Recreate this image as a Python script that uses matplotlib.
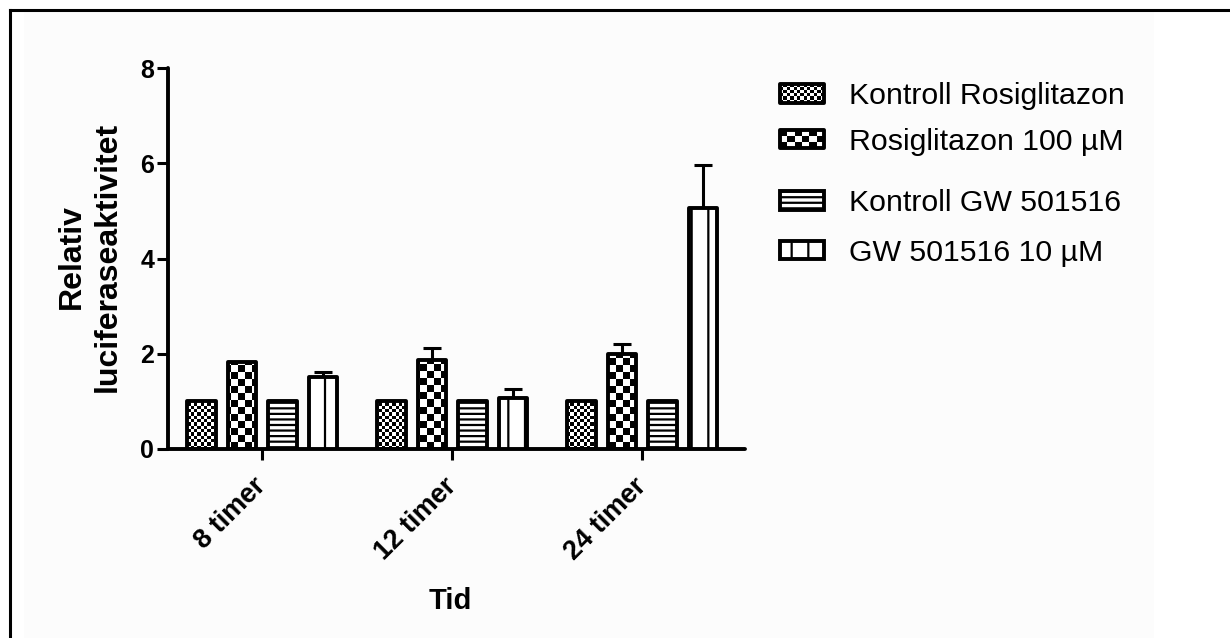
import matplotlib
matplotlib.use("Agg")
import matplotlib.pyplot as plt
from matplotlib.colors import ListedColormap
from matplotlib.legend_handler import HandlerBase
from matplotlib.lines import Line2D
from matplotlib.patches import Rectangle
import numpy as np

plt.rcParams['font.family'] = ['Liberation Sans', 'DejaVu Sans']
plt.rcParams['hatch.linewidth'] = 1.6
plt.rcParams['hatch.color'] = 'black'

# data
groups = ['8 timer', '12 timer', '24 timer']
labels = ['Kontroll Rosiglitazon', 'Rosiglitazon 100 µM',
          'Kontroll GW 501516', 'GW 501516 10 µM']
kontroll_rosi = [1.0, 1.0, 1.0]
rosi_100 = [1.82, 1.87, 1.99]
rosi_100_err = [0.0, 0.26, 0.22]
kontroll_gw = [1.0, 1.0, 1.0]
gw_10 = [1.51, 1.08, 5.06]
gw_10_err = [0.11, 0.18, 0.91]

W, H = 1230, 638
fig = plt.figure(figsize=(W / 100, H / 100), dpi=100)

# outer frame (top + left only) and faint panel
fig.add_artist(Line2D([10 / W, 1], [1 - 10 / H, 1 - 10 / H], color='k', lw=2.2))
fig.add_artist(Line2D([10 / W, 10 / W], [0, 1 - 10 / H], color='k', lw=2.2))
fig.patches.append(Rectangle((24 / W, 0), (1154 - 24) / W, 1 - 12 / H,
                             transform=fig.transFigure, fc='#fcfcfc', ec='none', zorder=-5))

ax_l, ax_r, ax_t, ax_b = 168, 745, 68, 449
ax = fig.add_axes([ax_l / W, 1 - ax_b / H, (ax_r - ax_l) / W, (ax_b - ax_t) / H])
ax.patch.set_alpha(0)

x = np.arange(len(groups))
step = 0.213
bw = 0.15
xlim = (-0.497, 2.54)
ylim = (0, 8)
lw = 2.8

b1 = ax.bar(x - 1.5 * step, kontroll_rosi, bw, facecolor='none', edgecolor='k', lw=lw, zorder=3)
b2 = ax.bar(x - 0.5 * step, rosi_100, bw, facecolor='none', edgecolor='k', lw=lw, zorder=3)
b3 = ax.bar(x + 0.5 * step, kontroll_gw, bw, facecolor='white', edgecolor='k', lw=lw,
            hatch='---', zorder=3)
b4 = ax.bar(x + 1.5 * step, gw_10, bw, facecolor='white', edgecolor='k', lw=lw,
            hatch='|', zorder=3)
for cont in (b1, b2, b3, b4):
    for p in cont:
        p.set_joinstyle('round')

# checker fills clipped to bars
px_x = (ax_r - ax_l) / (xlim[1] - xlim[0])
px_y = (ax_b - ax_t) / (ylim[1] - ylim[0])


def checker(bars, cell):
    ncols = int((ax_r - ax_l) / cell) + 2
    nrows = int((ax_b - ax_t) / cell) + 2
    arr = np.indices((nrows, ncols)).sum(axis=0) % 2
    ext = (xlim[0], xlim[0] + ncols * cell / px_x, 0, nrows * cell / px_y)
    for p in bars:
        im = ax.imshow(arr, cmap=ListedColormap(['white', 'black']), extent=ext,
                       aspect='auto', interpolation='nearest', origin='lower', zorder=2)
        im.set_clip_path(p)


checker(b1, 3.3)
checker(b2, 7.0)

# upward error bars only
for xs, vals, errs in ((x - 0.5 * step, rosi_100, rosi_100_err),
                       (x + 1.5 * step, gw_10, gw_10_err)):
    errs = np.array(errs)
    m = errs > 0
    ax.errorbar(np.array(xs)[m], np.array(vals)[m], yerr=[np.zeros(m.sum()), errs[m]],
                fmt='none', ecolor='k', elinewidth=2.2, capsize=6.5, capthick=2.2, zorder=1)

ax.set_xlim(*xlim)
ax.set_ylim(*ylim)
for s in ('top', 'right'):
    ax.spines[s].set_visible(False)
for s in ('left', 'bottom'):
    ax.spines[s].set_linewidth(lw)
    ax.spines[s].set_capstyle('round')

ax.set_yticks([0, 2, 4, 6, 8])
ax.tick_params(axis='y', length=8, width=2.2, pad=2, labelsize=18)
ax.tick_params(axis='x', length=8, width=2.2, pad=16, labelsize=19.5)
ax.set_xticks(x)
ax.set_xticklabels(groups, fontweight='bold', rotation=45, ha='right', va='center',
                   rotation_mode='anchor')
for t in ax.get_yticklabels():
    t.set_fontweight('bold')

ax.set_ylabel('Relativ\nluciferaseaktivitet', fontsize=23, fontweight='bold',
              va='center', linespacing=1.25)
ax.yaxis.set_label_coords(-0.135, 0.505)
ax.set_xlabel('Tid', fontsize=21, fontweight='bold', va='center')
ax.xaxis.set_label_coords(0.49, -0.4)


class CheckerHandler(HandlerBase):
    def __init__(self, cell):
        super().__init__()
        self.cell = cell

    def create_artists(self, legend, orig_handle, xdescent, ydescent, width, height,
                       fontsize, trans):
        x0, y0 = -xdescent, -ydescent
        nx = max(1, int(round(width / self.cell)))
        ny = max(1, int(round(height / self.cell)))
        cw, ch = width / nx, height / ny
        arts = []
        for i in range(nx):
            for j in range(ny):
                if (i + j) % 2 == 0:
                    arts.append(Rectangle((x0 + i * cw, y0 + j * ch), cw, ch, fc='k',
                                          ec='none', transform=trans))
        frame = Rectangle((x0, y0), width, height, fc='none', ec='k', lw=lw,
                          joinstyle='round', transform=trans)
        arts.append(frame)
        return arts


leg_kw = dict(loc='upper left', frameon=False, fontsize=21.8, borderpad=0, borderaxespad=0,
              handlelength=1.45, handleheight=0.57, handletextpad=0.84)
fig.legend([b1, b2], labels[:2], bbox_to_anchor=(780 / W, 1 - 82 / H), labelspacing=0.58,
           handler_map={b1: CheckerHandler(2.4), b2: CheckerHandler(5.0)}, **leg_kw)
fig.legend([b3, b4], labels[2:], bbox_to_anchor=(780 / W, 1 - 189 / H), labelspacing=0.72,
           **leg_kw)

fig.savefig('out.png', dpi=100)
